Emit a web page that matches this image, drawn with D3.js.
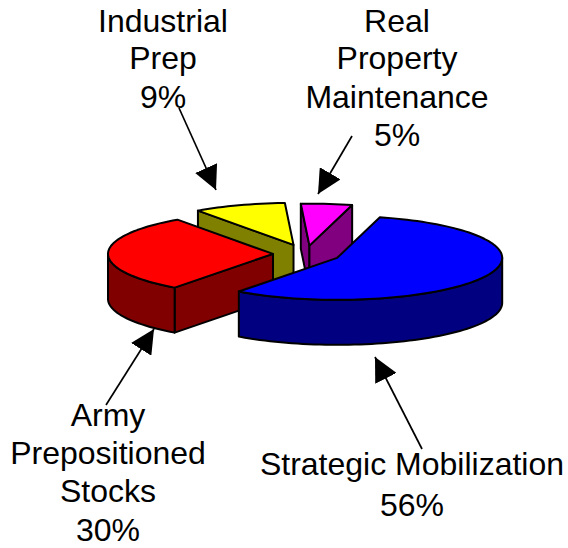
<!DOCTYPE html>
<meta charset="utf-8">
<style>
  body { margin: 0; background: #fff; }
  text { font-family: "Liberation Sans", Arial, sans-serif; font-size: 32px; fill: #000; }
</style>
<script src="https://d3js.org/d3.v7.min.js"></script>
<div id="my_dataviz"></div>
<script>

// chart values
var categories = ["Strategic Mobilization", "Army Prepositioned Stocks", "Industrial Prep", "Real Property Maintenance"];
var percents = [56, 30, 9, 5];
var explodes = [0.21, 0.2, 0.23, 0.2];  // how far each slice is pulled out
var topColors = ["#0000ff", "#ff0000", "#ffff00", "#ff00ff"];
var sideColors = ["#000080", "#800000", "#808000", "#800080"];

// labels, one array of lines per slice
var labelLines = [
  ["Strategic Mobilization", "56%"],
  ["Army", "Prepositioned", "Stocks", "30%"],
  ["Industrial", "Prep", "9%"],
  ["Real", "Property", "Maintenance", "5%"]
];
var labelX = [412, 108, 163, 397];
var labelBaselines = [[475, 516], [426, 464, 502, 541], [32, 69, 108], [32, 69, 108, 146]];

// callouts: text end to slice end
var arrowStart = [[422, 449], [106, 405], [179, 108], [352, 136]];
var arrowEnd = [[375, 357], [154, 329], [216, 190], [318, 194]];

var width = 568, height = 548;
var cx = 306, cy = 254;      // pie centre before the explode
var rx = 165, ry = 42;       // squashed radius
var depth = 45;

var svg = d3.select("#my_dataviz").append("svg")
  .attr("width", width)
  .attr("height", height)
  .style("display", "block");

var defs = svg.append("defs");
defs.append("marker")
  .attr("id", "head")
  .attr("markerUnits", "userSpaceOnUse")
  .attr("viewBox", "0 0 24 24")
  .attr("refX", 24).attr("refY", 12)
  .attr("markerWidth", 24).attr("markerHeight", 24)
  .attr("orient", "auto")
  .append("path")
  .attr("d", "M0,0L24,12L0,24Z")
  .attr("fill", "#000");

var pie = d3.pie().sort(null)
  .startAngle(15 * Math.PI / 180)
  .endAngle((15 + 360) * Math.PI / 180);

var slices = pie(percents).map(function(d, i) {
  var mid = (d.startAngle + d.endAngle) / 2;
  d.name = categories[i];
  d.top = topColors[i];
  d.side = sideColors[i];
  d.x0 = cx + explodes[i] * rx * Math.sin(mid);
  d.y0 = cy - explodes[i] * ry * Math.cos(mid);
  return d;
});

// point on the rim of a slice
function rim(d, a) {
  return [d.x0 + rx * Math.sin(a), d.y0 - ry * Math.cos(a)];
}

function arcPoints(a0, a1) {
  return d3.range(a0, a1, Math.PI / 90).concat([a1]);
}

function drop(p) { return [p[0], p[1] + depth]; }

var line = d3.line();

// back slices first so the front ones cover them
var order = [2, 3, 1, 0];

var g = svg.append("g")
  .attr("stroke", "#000")
  .attr("stroke-width", 2)
  .attr("stroke-linejoin", "round");

order.forEach(function(k) {
  var d = slices[k];
  var apex = [d.x0, d.y0];
  var faces = [];

  // flat cut faces that look towards the viewer
  if (Math.sin(d.startAngle) < 0) {
    var s = rim(d, d.startAngle);
    faces.push([apex, s, drop(s), drop(apex)]);
  }
  if (Math.sin(d.endAngle) > 0) {
    var e = rim(d, d.endAngle);
    faces.push([apex, e, drop(e), drop(apex)]);
  }

  // curved wall, only the front half of the ellipse shows
  var from = Math.max(d.startAngle, Math.PI / 2);
  var to = Math.min(d.endAngle, 3 * Math.PI / 2);
  if (to > from) {
    var edge = arcPoints(from, to).map(function(a) { return rim(d, a); });
    faces.push(edge.concat(edge.map(drop).reverse()));
  }

  g.selectAll(null).data(faces).enter().append("path")
    .attr("d", function(f) { return line(f) + "Z"; })
    .attr("fill", d.side);

  var topEdge = arcPoints(d.startAngle, d.endAngle).map(function(a) { return rim(d, a); });
  g.append("path")
    .attr("d", line([apex].concat(topEdge)) + "Z")
    .attr("fill", d.top);
});

// callout arrows
svg.selectAll(".arrow").data(arrowStart).enter().append("line")
  .attr("class", "arrow")
  .attr("x1", function(d) { return d[0]; })
  .attr("y1", function(d) { return d[1]; })
  .attr("x2", function(d, i) { return arrowEnd[i][0]; })
  .attr("y2", function(d, i) { return arrowEnd[i][1]; })
  .attr("stroke", "#000")
  .attr("stroke-width", 1.7)
  .attr("marker-end", "url(#head)");

// labels
labelLines.forEach(function(lines, i) {
  svg.selectAll(null).data(lines).enter().append("text")
    .attr("text-anchor", "middle")
    .attr("x", labelX[i])
    .attr("y", function(d, j) { return labelBaselines[i][j]; })
    .text(function(d) { return d; });
});

</script>
